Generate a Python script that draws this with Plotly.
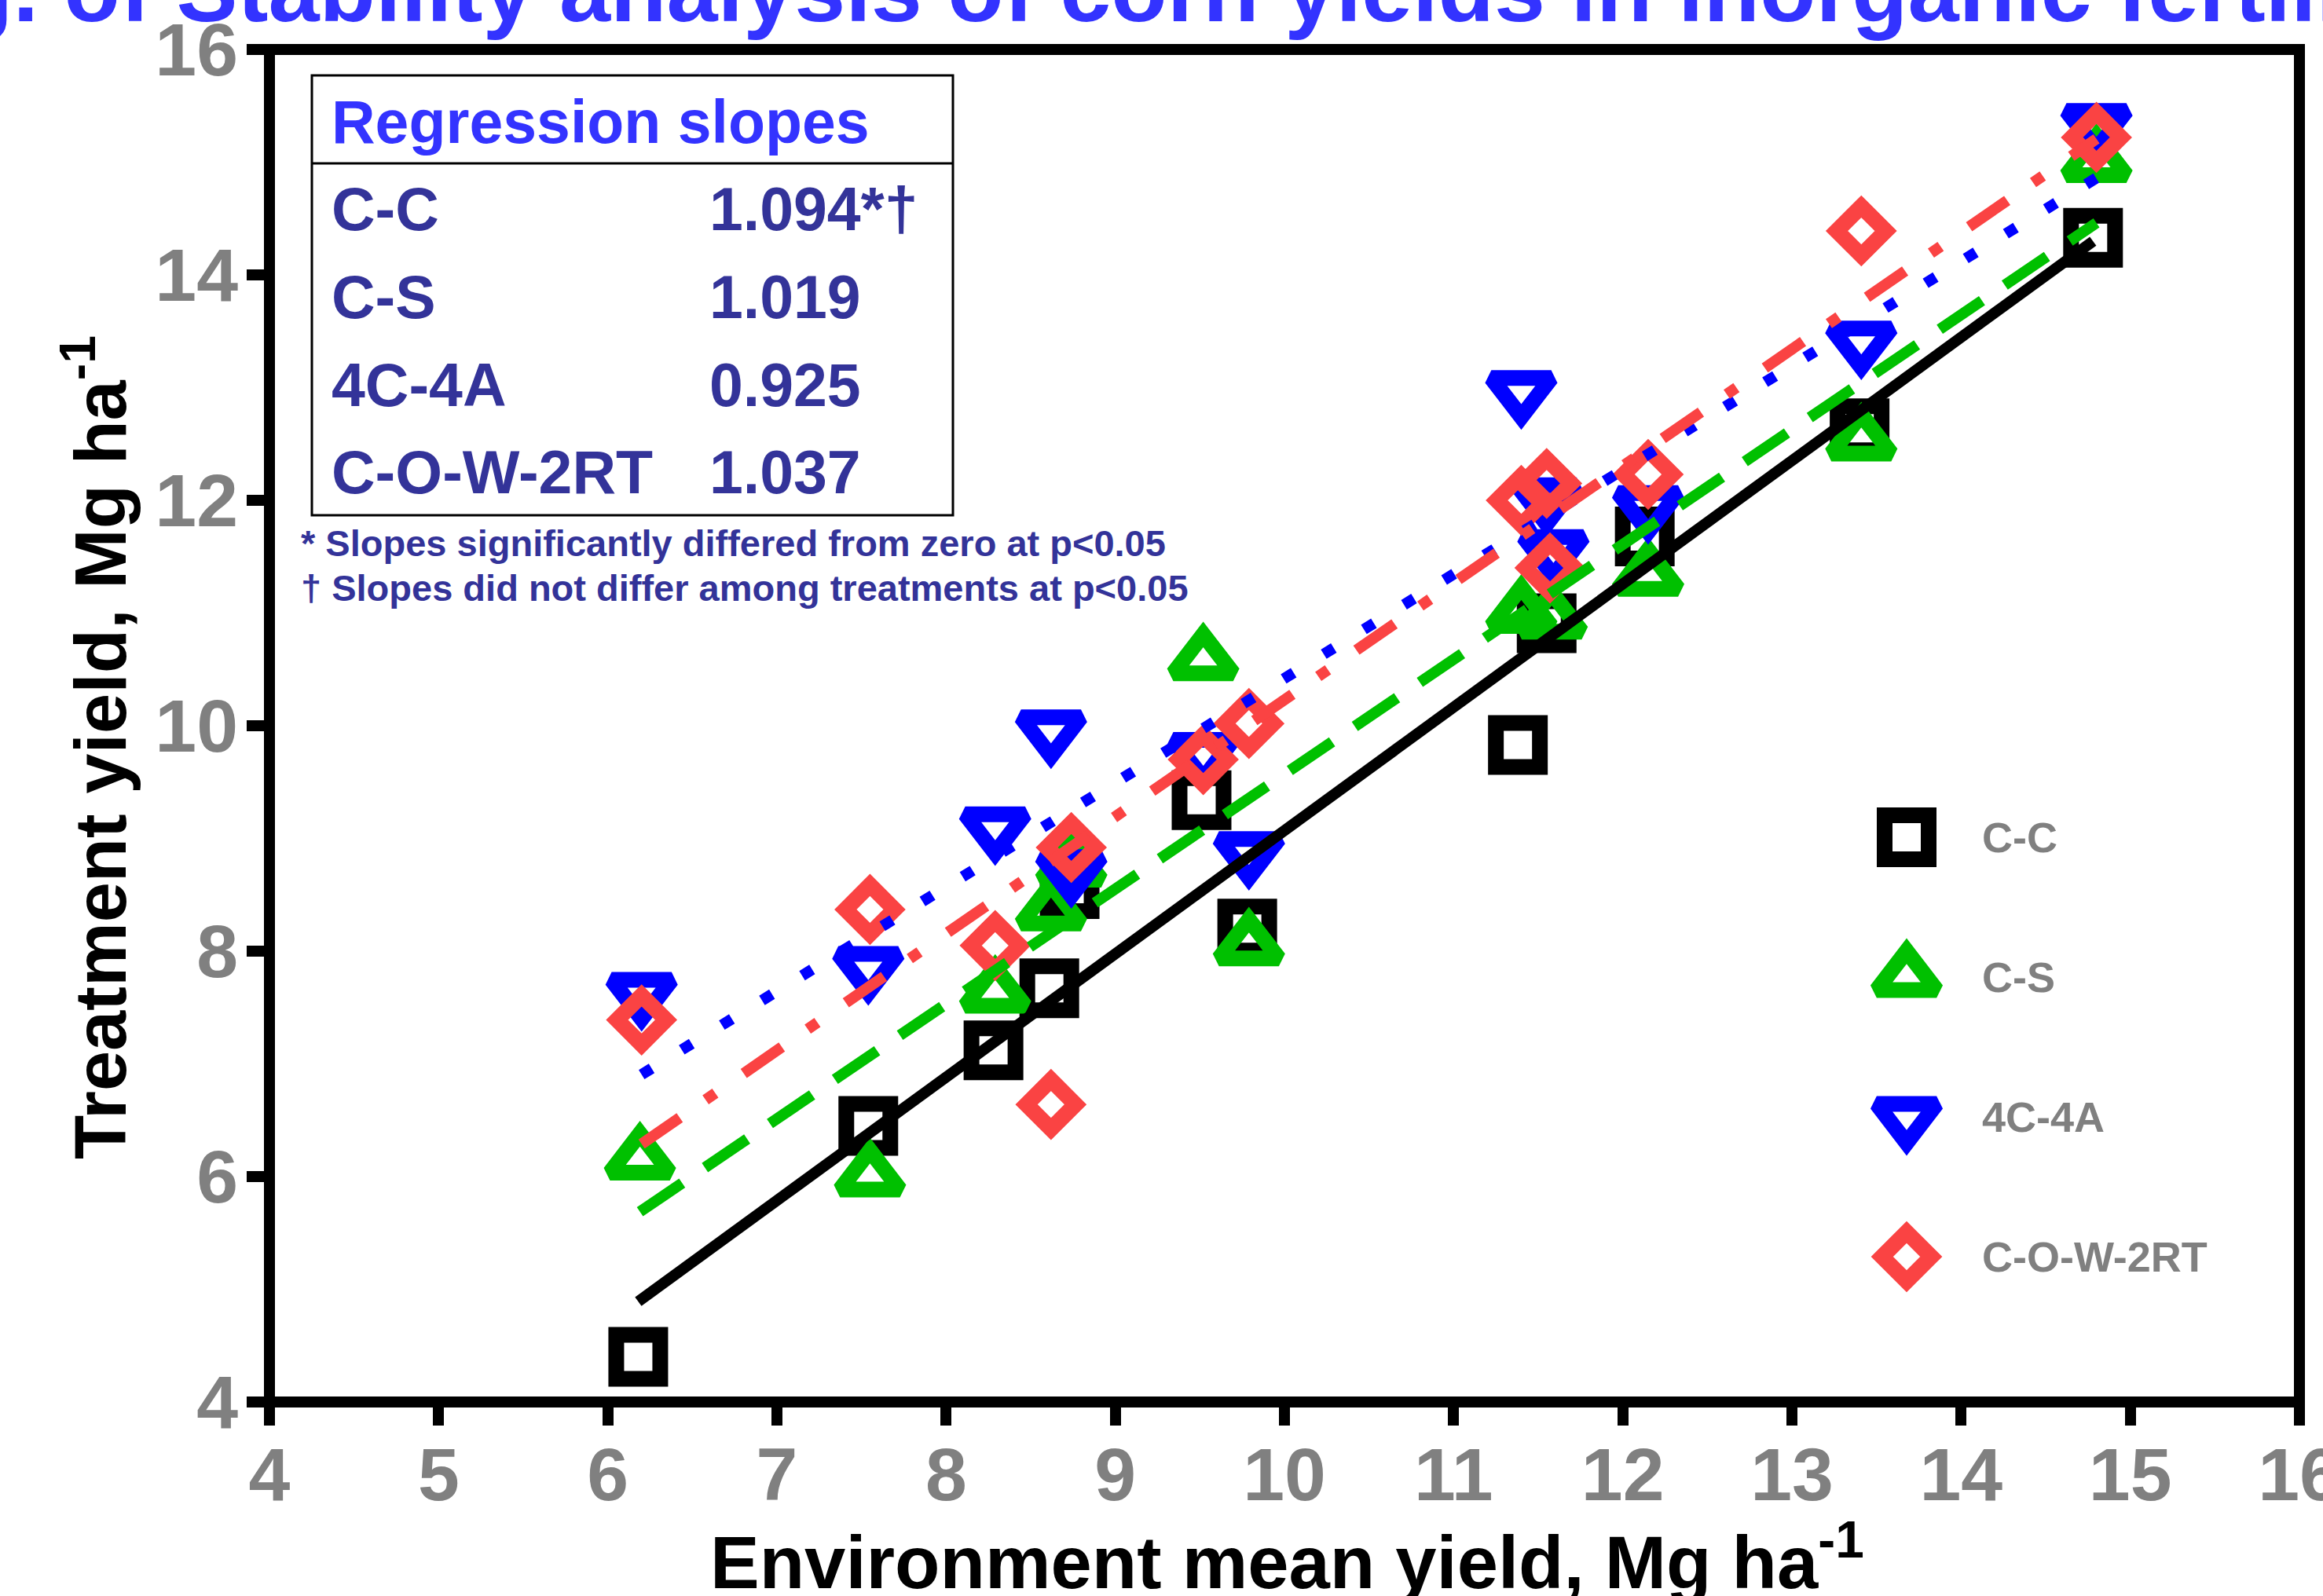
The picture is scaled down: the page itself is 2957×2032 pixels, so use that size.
import numpy as np
import plotly.graph_objects as go

# ---------------- data ----------------
series_names = ["C-C", "C-S", "4C-4A", "C-O-W-2RT"]

cc_x = [6.18, 7.54, 8.28, 8.61, 8.73, 9.51, 9.78, 11.38, 11.55, 12.13, 13.40, 14.78]
cc_y = [4.40, 6.45, 7.12, 7.67, 8.55, 9.34, 8.20, 9.83, 10.91, 11.68, 12.64, 14.33]

cs_x = [6.19, 7.55, 8.29, 8.62, 8.74, 9.52, 9.79, 11.40, 11.58, 12.15, 13.41, 14.80]
cs_y = [6.15, 6.00, 7.63, 8.36, 8.75, 10.58, 8.05, 11.00, 10.95, 11.33, 12.53, 15.00]

c4_x = [6.20, 7.54, 8.29, 8.62, 8.74, 9.52, 9.79, 11.40, 11.55, 11.59, 12.15, 13.41, 14.80]
c4_y = [7.63, 7.86, 9.10, 9.96, 8.72, 9.76, 8.88, 12.97, 12.02, 11.56, 11.95, 13.41, 15.34]

cow_x = [6.20, 7.55, 8.29, 8.62, 8.74, 9.52, 9.79, 11.40, 11.55, 11.57, 12.15, 13.41, 14.80]
cow_y = [7.39, 8.37, 8.05, 6.64, 8.92, 9.70, 10.02, 12.00, 12.15, 11.40, 12.23, 14.39, 15.22]

slopes = [1.094, 1.019, 0.925, 1.037]
slope_labels = ["1.094*\u2020", "1.019", "0.925", "1.037"]
intercepts = [-1.87, -0.62, 1.17, -0.14]

x_ticks = list(range(4, 17, 1))
y_ticks = list(range(4, 17, 2))

xs = [cc_x, cs_x, c4_x, cow_x]
ys = [cc_y, cs_y, c4_y, cow_y]

# ---------------- styles ----------------
W, H = 2957, 2032
ML, MR, MT, MB = 343, 30, 63, 247
PW, PH = W - ML - MR, H - MT - MB
FONT = "Liberation Sans, Arial, sans-serif"
GREY = "#808080"
colors = ["#000000", "#00C000", "#0000FF", "#FA4343"]
symbols = ["square-open", "triangle-up-open", "triangle-down-open", "diamond-open"]
msizes = [56, 66, 66, 48]
MLW = 20
dashes = ["solid", "65px,35px", "15px,45px", "59px,40px,15px,44px"]


def px_x(p):
    return (p - ML) / PW


def px_y(p):
    return (H - MB - p) / PH


fig = go.Figure()

# markers
for i, name in enumerate(series_names):
    fig.add_trace(go.Scatter(
        x=xs[i], y=ys[i], mode="markers", name=name, showlegend=False,
        marker=dict(symbol=symbols[i], size=msizes[i], color=colors[i],
                    line=dict(width=MLW, color=colors[i])),
        cliponaxis=False))

# regression lines (slopes from the table)
for i, name in enumerate(series_names):
    lx = np.array([min(xs[i]), max(xs[i])])
    ly = intercepts[i] + slopes[i] * lx
    fig.add_trace(go.Scatter(
        x=lx, y=ly, mode="lines", showlegend=False,
        line=dict(color=colors[i], width=14, dash=dashes[i])))

# custom legend on hidden overlay axes: one row per series index
LEG_X, LEG_TOP, LEG_STEP = 2427, 1066, 178
x2_lo = -(LEG_X - ML) / PW
y2_lo = (H - MB - LEG_TOP) / LEG_STEP
y2_hi = -(LEG_TOP - MT) / LEG_STEP
for i, name in enumerate(series_names):
    fig.add_trace(go.Scatter(
        x=[0], y=[i], mode="markers", showlegend=False, xaxis="x2", yaxis="y2",
        marker=dict(symbol=symbols[i], size=msizes[i], color=colors[i],
                    line=dict(width=MLW, color=colors[i])),
        cliponaxis=False))
    fig.add_annotation(x=px_x(2521), y=i, xref="paper", yref="y2", text=name,
                       showarrow=False, xanchor="left", yanchor="middle",
                       font=dict(family=FONT, size=54, color=GREY, weight="bold"))

axis_common = dict(showgrid=False, zeroline=False, showline=False,
                   ticks="outside", tickwidth=14, tickcolor="black", automargin=False,
                   ticklabeloverflow="allow",
                   tickfont=dict(family=FONT, size=95, color=GREY, weight="bold"))

fig.update_layout(
    width=W, height=H,
    margin=dict(l=ML, r=MR, t=MT, b=MB, pad=0, autoexpand=False),
    paper_bgcolor="white", plot_bgcolor="white",
    xaxis=dict(range=[4, 16], tickvals=x_ticks, ticklen=29, ticklabelstandoff=-19,
               **axis_common),
    yaxis=dict(range=[4, 16], tickvals=y_ticks, ticklen=28, ticklabelstandoff=-8,
               **axis_common),
    xaxis2=dict(overlaying="x", range=[x2_lo, x2_lo + 1], visible=False, anchor="y2"),
    yaxis2=dict(overlaying="y", range=[y2_lo, y2_hi], visible=False, anchor="x2"),
)

# plot frame centred on the data edges
fig.add_shape(type="rect", xref="paper", yref="paper", x0=0, x1=1, y0=0, y1=1,
              line=dict(color="black", width=14), layer="above")

# axis titles
fig.add_annotation(x=px_x(1638), y=px_y(1982), xref="paper", yref="paper",
                   text="Environment mean yield, Mg ha<sup>-1</sup>",
                   showarrow=False, xanchor="center", yanchor="middle",
                   font=dict(family=FONT, size=94, color="black", weight="bold"))
fig.add_annotation(x=px_x(121), y=px_y(952), xref="paper", yref="paper",
                   text="Treatment yield, Mg ha<sup>-1</sup>", textangle=-90,
                   showarrow=False, xanchor="center", yanchor="middle",
                   font=dict(family=FONT, size=92, color="black", weight="bold"))

# ---- regression slope table ----
fig.add_shape(type="rect", xref="paper", yref="paper",
              x0=px_x(397), x1=px_x(1213), y0=px_y(656), y1=px_y(96),
              line=dict(color="black", width=3), fillcolor="white", layer="below")
fig.add_shape(type="line", xref="paper", yref="paper",
              x0=px_x(397), x1=px_x(1213), y0=px_y(208), y1=px_y(208),
              line=dict(color="black", width=3))
fig.add_annotation(x=px_x(420), y=px_y(155), xref="paper", yref="paper",
                   text="Regression slopes", showarrow=False, xanchor="left",
                   yanchor="middle",
                   font=dict(family=FONT, size=77, color="#3333FF", weight="bold"))
row_px = [266, 378, 490, 601]
for i, name in enumerate(series_names):
    fig.add_annotation(x=px_x(420), y=px_y(row_px[i]), xref="paper", yref="paper",
                       text=name, showarrow=False, xanchor="left", yanchor="middle",
                       font=dict(family=FONT, size=77, color="#333399", weight="bold"))
    fig.add_annotation(x=px_x(901), y=px_y(row_px[i]), xref="paper", yref="paper",
                       text=slope_labels[i], showarrow=False, xanchor="left",
                       yanchor="middle",
                       font=dict(family=FONT, size=77, color="#333399", weight="bold"))
notes = ["* Slopes significantly differed from zero at p<0.05",
         "\u2020 Slopes did not differ among treatments at p<0.05"]
for t, py in zip(notes, [691, 749]):
    fig.add_annotation(x=px_x(381), y=px_y(py), xref="paper", yref="paper",
                       text=t, showarrow=False, xanchor="left", yanchor="middle",
                       font=dict(family=FONT, size=47, color="#333399", weight="bold"))

# ---- cut-off figure caption at the very top ----
fig.add_annotation(x=px_x(-57), y=px_y(-14), xref="paper", yref="paper",
                   text="g. of Stability analysis of corn yields in inorganic fertilizer",
                   showarrow=False, xanchor="left", yanchor="middle",
                   font=dict(family=FONT, size=117, color="#3333FF", weight="bold"))

fig.write_html("out.html", config={"displayModeBar": False},
               post_script="document.body.style.margin='0px';")
